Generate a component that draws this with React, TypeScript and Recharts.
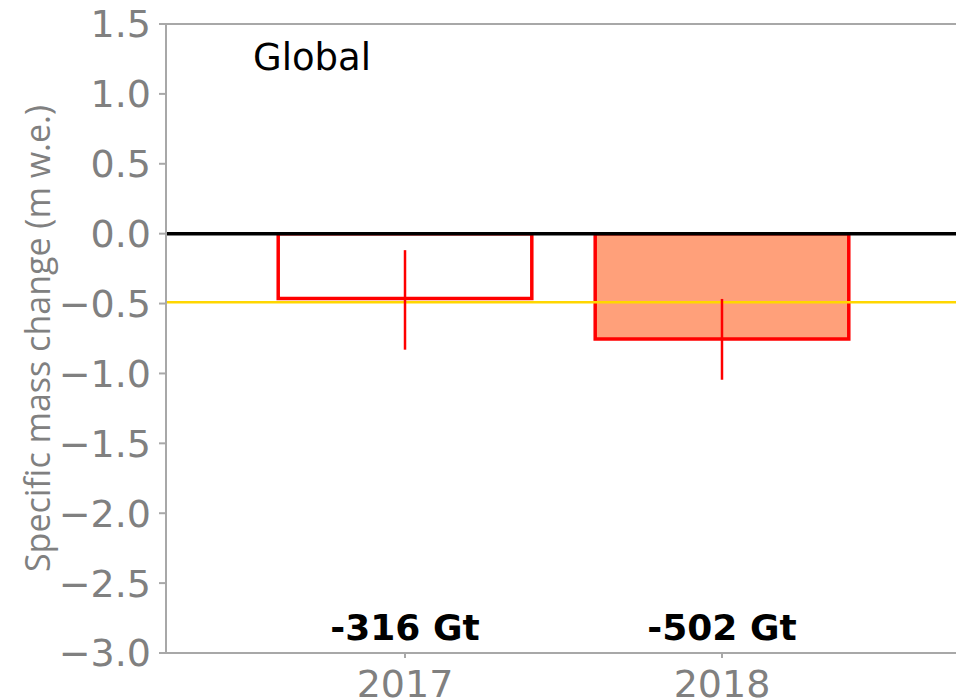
import React from 'react';
import {
  ComposedChart,
  XAxis,
  YAxis,
  ReferenceArea,
  ReferenceLine,
  ReferenceDot,
  Scatter,
  ErrorBar,
} from 'recharts';

// ---- data ----
const years = [2017, 2018];
const massChange = [-0.464, -0.753]; // m w.e.
const errCenter = [-0.474, -0.756];
const errHalf = [0.356, 0.289];
const massLabels = ['-316 Gt', '-502 Gt'];
const meanValue = -0.49;
const yTicks = [-3, -2.5, -2, -1.5, -1, -0.5, 0, 0.5, 1, 1.5];
const xTicks = [2017, 2018];
const regionName = 'Global';

// ---- styles ----
const barFills = ['none', '#FFA07A'];
const barHalf = 0.4;
const xDomain = [2016.246, 2018.754];
const yDomain = [-3, 1.5];
const labelY = -2.905;
const GRAY = '#808080';
const SPINE = '#a8a8a8';
const FONT = '"DejaVu Sans", sans-serif';

const fmt = (v: number) => (v < 0 ? '\u2212' : '') + Math.abs(v).toFixed(1);

export default function App() {
  const rows = years.map((year, i) => ({ year, center: errCenter[i], err: errHalf[i] }));
  return (
    <div
      style={{
        position: 'fixed',
        left: 0,
        top: 0,
        width: 956,
        height: 699,
        overflow: 'hidden',
        background: '#fff',
      }}
    >
      <ComposedChart
        width={961}
        height={699}
        data={rows}
        margin={{ top: 24, right: 0, bottom: 6, left: 0 }}
      >
        <XAxis
          dataKey="year"
          type="number"
          domain={xDomain}
          ticks={xTicks}
          allowDataOverflow
          height={40}
          tick={{ fill: GRAY, fontSize: 38, fontFamily: FONT }}
          tickLine={{ stroke: SPINE, strokeWidth: 2 }}
          axisLine={{ stroke: SPINE, strokeWidth: 2 }}
          tickSize={5}
          tickMargin={12}
        />
        <YAxis
          type="number"
          domain={yDomain}
          ticks={yTicks}
          allowDataOverflow
          width={166}
          tickFormatter={fmt}
          tick={{ fill: GRAY, fontSize: 38, fontFamily: FONT }}
          tickLine={{ stroke: SPINE, strokeWidth: 2 }}
          axisLine={{ stroke: SPINE, strokeWidth: 2 }}
          tickSize={7}
          tickMargin={8}
          label={{
            content: (props: any) => {
              const vb = props.viewBox || { x: 0, y: 24, width: 166, height: 629 };
              const x = vb.x + 50;
              const y = vb.y + vb.height / 2;
              return (
                <text
                  x={x}
                  y={y}
                  transform={`rotate(-90, ${x}, ${y})`}
                  textAnchor="middle"
                  fill={GRAY}
                  fontSize={34}
                  fontFamily='"Open Sans", sans-serif'
                >
                  Specific mass change (m w.e.)
                </text>
              );
            },
          }}
        />
        {years.map((y, i) => (
          <ReferenceArea
            key={`bar-${y}`}
            x1={y - barHalf}
            x2={y + barHalf}
            y1={0}
            y2={massChange[i]}
            fill={barFills[i]}
            fillOpacity={1}
            stroke="#ff0000"
            strokeWidth={3.5}
            ifOverflow="visible"
          />
        ))}
        <ReferenceLine y={meanValue} stroke="#FFD700" strokeWidth={2.5} />
        <ReferenceLine y={0} stroke="#000000" strokeWidth={3.5} />
        <ReferenceLine y={yDomain[1]} stroke={SPINE} strokeWidth={2} />
        <Scatter dataKey="center" shape={() => <g />} isAnimationActive={false}>
          <ErrorBar
            dataKey="err"
            direction="y"
            width={0}
            stroke="#ff0000"
            strokeWidth={2.5}
            isAnimationActive={false}
          />
        </Scatter>
        {years.map((y, i) => (
          <ReferenceDot
            key={`lab-${y}`}
            x={y}
            y={labelY}
            r={0}
            fill="none"
            stroke="none"
            label={{
              content: (props: any) => {
                const vb = props.viewBox || { x: 0, y: 0 };
                return (
                  <text
                    x={vb.x + (vb.width || 0) / 2}
                    y={vb.y + (vb.height || 0) / 2}
                    textAnchor="middle"
                    fill="#000"
                    fontSize={36}
                    fontWeight="bold"
                    fontFamily={FONT}
                  >
                    {massLabels[i]}
                  </text>
                );
              },
            }}
          />
        ))}
      </ComposedChart>
      <svg
        width={956}
        height={699}
        style={{ position: 'absolute', left: 0, top: 0, pointerEvents: 'none' }}
      >
        <text x={253} y={70} fill="#000" fontSize={37} fontFamily={FONT}>
          {regionName}
        </text>
      </svg>
    </div>
  );
}
